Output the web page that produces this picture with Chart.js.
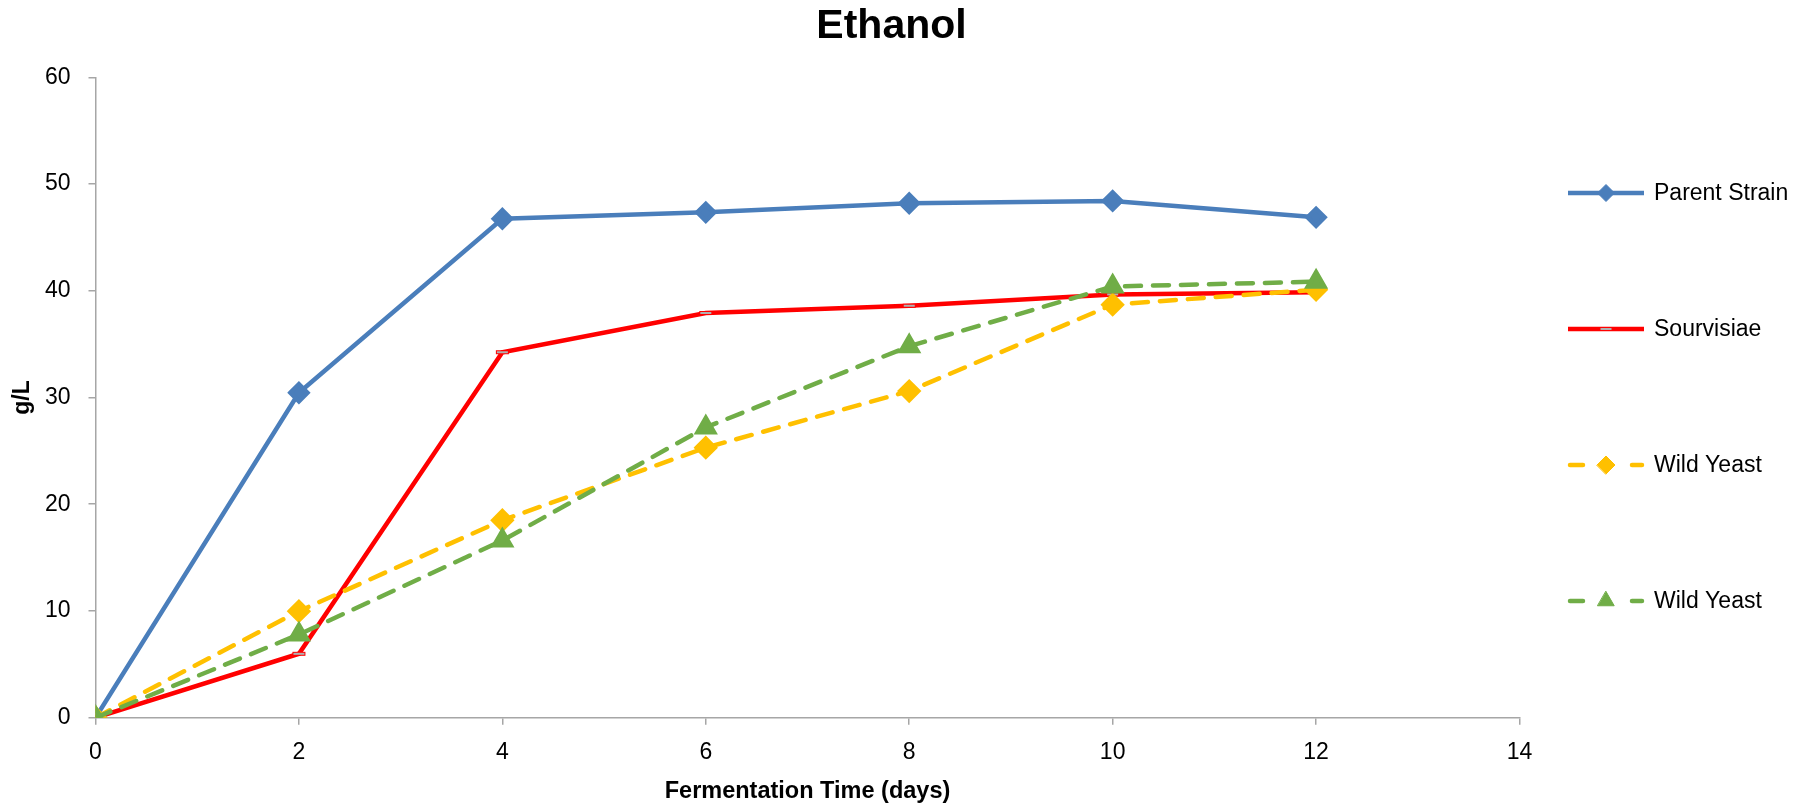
<!DOCTYPE html>
<html><head><meta charset="utf-8">
<script src="https://cdn.jsdelivr.net/npm/chart.js@4/dist/chart.umd.min.js"></script>
<style>html,body{margin:0;padding:0;background:#fff;overflow:hidden}#wrap{width:1805px;height:806px;position:relative}</style>
</head><body><div id="wrap"><canvas id="c" width="1805" height="806"></canvas></div>
<script>
// ---- data ----
const days = [0, 2, 4, 6, 8, 10, 12];
const parentStrain = [0, 30.45, 46.75, 47.35, 48.2, 48.42, 46.88];
const sourvisiae   = [0, 5.99, 34.24, 37.92, 38.6, 39.66, 39.86];
const wildYeastA   = [0, 9.98, 18.5, 25.3, 30.6, 38.7, 40.1];
const wildYeastB   = [0, 7.8, 16.6, 27.2, 34.8, 40.4, 40.85];
const seriesLabels = ['Parent Strain', 'Sourvisiae', 'Wild Yeast', 'Wild Yeast'];
const xTicks = [0, 2, 4, 6, 8, 10, 12, 14];
const yTicks = [0, 10, 20, 30, 40, 50, 60];
const chartTitle = 'Ethanol';
const xTitle = 'Fermentation Time (days)';
const yTitle = 'g/L';

const FONT = 'Liberation Sans';
const AXIS = '#a6a6a6';

function pts(vals) { return days.map((d, i) => ({ x: d, y: vals[i] })); }

function rectMarker() {
  const c = document.createElement('canvas');
  c.width = 15; c.height = 6;
  const g = c.getContext('2d');
  g.fillStyle = '#b0b0b0'; g.fillRect(1, 1, 13, 4);
  g.strokeStyle = '#ff0000'; g.lineWidth = 1; g.strokeRect(1.5, 1.5, 12, 3);
  return c;
}

const sideLegend = {
  id: 'sideLegend',
  afterDraw(chart, args, opts) {
    const ctx = chart.ctx;
    chart.data.datasets.forEach((ds, i) => {
      const y = opts.top + i * opts.step;
      const x0 = opts.x, x1 = opts.x + opts.lineLen, xm = (x0 + x1) / 2;
      ctx.save();
      ctx.strokeStyle = ds.borderColor; ctx.lineWidth = ds.borderWidth; ctx.lineCap = 'round';
      ctx.beginPath();
      if (ds.borderDash && ds.borderDash.length) {
        ctx.moveTo(x0 + 2, y); ctx.lineTo(x0 + 15, y);
        ctx.moveTo(x1 - 12, y); ctx.lineTo(x1 - 2, y);
      } else {
        ctx.lineCap = 'butt';
        ctx.moveTo(x0, y); ctx.lineTo(x1, y);
      }
      ctx.stroke();
      ctx.fillStyle = ds.pointBackgroundColor; ctx.strokeStyle = ds.pointBorderColor; ctx.lineWidth = 1;
      Chart.helpers.drawPoint(ctx, { pointStyle: ds.pointStyle, radius: ds.pointRadius, borderWidth: 1, rotation: 0 }, xm, y);
      ctx.fillStyle = '#000'; ctx.font = '23px "' + FONT + '"';
      ctx.textBaseline = 'middle'; ctx.textAlign = 'left';
      ctx.fillText(ds.label, opts.textX, y + 1);
      ctx.restore();
    });
  }
};

const ds = [
  { label: seriesLabels[0], data: pts(parentStrain), borderColor: '#4a7ebb', backgroundColor: '#4a7ebb',
    borderWidth: 4.5, pointStyle: 'rectRot', pointRadius: 8.5, pointBackgroundColor: '#4a7ebb', pointBorderColor: '#4a7ebb', order: 3 },
  { label: seriesLabels[1], data: pts(sourvisiae), borderColor: '#ff0000', backgroundColor: '#ff0000',
    borderWidth: 4.5, pointStyle: rectMarker(), pointRadius: 6, pointBackgroundColor: '#b0b0b0', pointBorderColor: '#ff0000', order: 2 },
  { label: seriesLabels[2], data: pts(wildYeastA), borderColor: '#ffc000', backgroundColor: '#ffc000',
    borderWidth: 4.5, borderDash: [16, 12], borderCapStyle: 'round', pointStyle: 'rectRot', pointRadius: 9,
    pointBackgroundColor: '#ffc000', pointBorderColor: '#ffc000', order: 1 },
  { label: seriesLabels[3], data: pts(wildYeastB), borderColor: '#70ad47', backgroundColor: '#70ad47',
    borderWidth: 4.5, borderDash: [16, 12], borderCapStyle: 'round', pointStyle: 'triangle', pointRadius: 9.5,
    pointBackgroundColor: '#70ad47', pointBorderColor: '#70ad47', order: 0 }
];

new Chart(document.getElementById('c'), {
  type: 'line',
  data: { datasets: ds },
  plugins: [sideLegend],
  options: {
    responsive: false, animation: false, devicePixelRatio: 1,
    layout: { padding: { left: 0, right: 22, top: 0, bottom: 0 } },
    elements: { line: { tension: 0 } },
    plugins: {
      legend: { display: false },
      tooltip: { enabled: false },
      title: { display: true, text: chartTitle, color: '#000',
        font: { family: FONT, size: 41, weight: 'bold' }, padding: { top: 2, bottom: 26.1 } },
      sideLegend: { x: 1568, lineLen: 76, textX: 1654, top: 193, step: 136 }
    },
    scales: {
      x: {
        type: 'linear', min: xTicks[0], max: xTicks[xTicks.length - 1],
        afterBuildTicks(s) { s.ticks = xTicks.map(v => ({ value: v })); },
        afterFit(s) { s.height = 88.3; },
        border: { display: true, color: AXIS, width: 1.5 },
        grid: { display: true, drawOnChartArea: false, drawTicks: true, tickLength: 7, color: AXIS, lineWidth: 1.5 },
        ticks: { padding: 14, color: '#000', font: { family: FONT, size: 23 }, maxRotation: 0 },
        title: { display: true, text: xTitle, color: '#000', font: { family: FONT, size: 23.5, weight: 'bold' }, padding: { top: 0, bottom: 0 } }
      },
      y: {
        type: 'linear', min: yTicks[0], max: yTicks[yTicks.length - 1],
        afterBuildTicks(s) { s.ticks = yTicks.map(v => ({ value: v })); },
        afterFit(s) { s.width = 95.5; },
        border: { display: true, color: AXIS, width: 1.5 },
        grid: { display: true, drawOnChartArea: false, drawTicks: true, tickLength: 7, color: AXIS, lineWidth: 1.5 },
        ticks: { padding: 18, color: '#000', font: { family: FONT, size: 23 } },
        title: { display: true, text: yTitle, color: '#000', font: { family: FONT, size: 23, weight: 'bold' }, padding: { top: 9, bottom: 0 } }
      },
      yR: {
        type: 'linear', position: 'right', display: true,
        afterFit(s) { s.width = 263.5; },
        border: { display: false }, grid: { display: false }, ticks: { display: false }, title: { display: false }
      }
    }
  }
});
</script>
</body></html>
